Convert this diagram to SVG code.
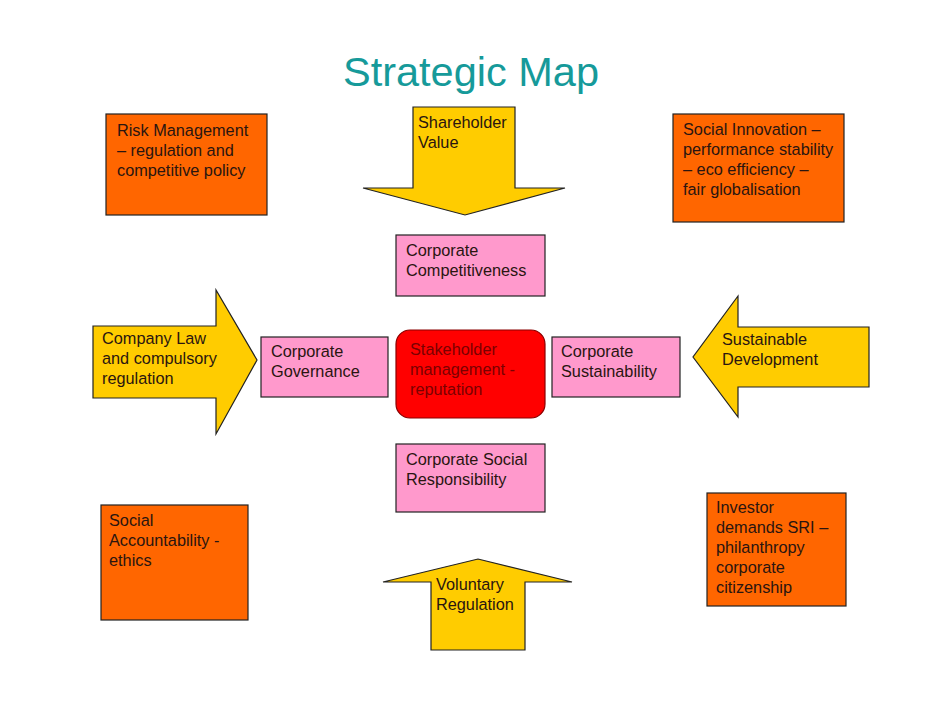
<svg xmlns="http://www.w3.org/2000/svg" width="942" height="728" viewBox="0 0 942 728">
<style>
text{font-family:"Liberation Sans",Arial,sans-serif;font-size:16.3px;fill:#2a1510}
.title{font-size:41.5px;fill:#169a9a}
.orange{fill:#ff6600;stroke:#222;stroke-width:1.2}
.pink{fill:#ff99cc;stroke:#222;stroke-width:1.2}
.arrow{fill:#ffcc00;stroke:#222;stroke-width:1.2;stroke-linejoin:miter}
.core{fill:#ff0000;stroke:#8a0000;stroke-width:1.2}
.coretext{fill:#7a0000}
</style>
<rect width="942" height="728" fill="#ffffff"/>
<text class="title" x="471" y="86" text-anchor="middle">Strategic Map</text>

<g id="risk-management">
<rect class="orange" x="106" y="114" width="161" height="101"/>
<text x="117" y="136">Risk Management</text>
<text x="117" y="156">– regulation and</text>
<text x="117" y="176">competitive policy</text>
</g>

<g id="shareholder-value">
<polygon class="arrow" points="413,107 515,107 515,188 565,188 465,215 363,188 413,188"/>
<text x="418" y="128">Shareholder</text>
<text x="418" y="148">Value</text>
</g>

<g id="social-innovation">
<rect class="orange" x="673" y="114" width="171" height="108"/>
<text x="683" y="135">Social Innovation –</text>
<text x="683" y="155">performance stability</text>
<text x="683" y="175">– eco efficiency –</text>
<text x="683" y="195">fair globalisation</text>
</g>

<g id="corporate-competitiveness">
<rect class="pink" x="396" y="235" width="149" height="61"/>
<text x="406" y="256">Corporate</text>
<text x="406" y="276">Competitiveness</text>
</g>

<g id="company-law">
<polygon class="arrow" points="93,326 216,326 216,290 257,360 216,434 216,398 93,398"/>
<text x="102" y="344">Company Law</text>
<text x="102" y="364">and compulsory</text>
<text x="102" y="384">regulation</text>
</g>

<g id="corporate-governance">
<rect class="pink" x="261" y="337" width="127" height="60"/>
<text x="271" y="357">Corporate</text>
<text x="271" y="377">Governance</text>
</g>

<g id="stakeholder-management">
<rect class="core" x="396" y="330" width="149" height="88" rx="14" ry="14"/>
<text class="coretext" x="410" y="355">Stakeholder</text>
<text class="coretext" x="410" y="375">management -</text>
<text class="coretext" x="410" y="395">reputation</text>
</g>

<g id="corporate-sustainability">
<rect class="pink" x="552" y="337" width="128" height="60"/>
<text x="561" y="357">Corporate</text>
<text x="561" y="377">Sustainability</text>
</g>

<g id="sustainable-development">
<polygon class="arrow" points="869,327 738,327 738,296 693,357 738,417 738,387 869,387"/>
<text x="722" y="345">Sustainable</text>
<text x="722" y="365">Development</text>
</g>

<g id="corporate-social-responsibility">
<rect class="pink" x="396" y="444" width="149" height="68"/>
<text x="406" y="465">Corporate Social</text>
<text x="406" y="485">Responsibility</text>
</g>

<g id="social-accountability">
<rect class="orange" x="101" y="505" width="147" height="115"/>
<text x="109" y="526">Social</text>
<text x="109" y="546">Accountability -</text>
<text x="109" y="566">ethics</text>
</g>

<g id="investor-demands">
<rect class="orange" x="707" y="493" width="139" height="113"/>
<text x="716" y="513">Investor</text>
<text x="716" y="533">demands SRI –</text>
<text x="716" y="553">philanthropy</text>
<text x="716" y="573">corporate</text>
<text x="716" y="593">citizenship</text>
</g>

<g id="voluntary-regulation">
<polygon class="arrow" points="431,650 525,650 525,582 572,582 478,559 383,582 431,582"/>
<text x="436" y="590">Voluntary</text>
<text x="436" y="610">Regulation</text>
</g>

<g id="connectors"></g>
</svg>
